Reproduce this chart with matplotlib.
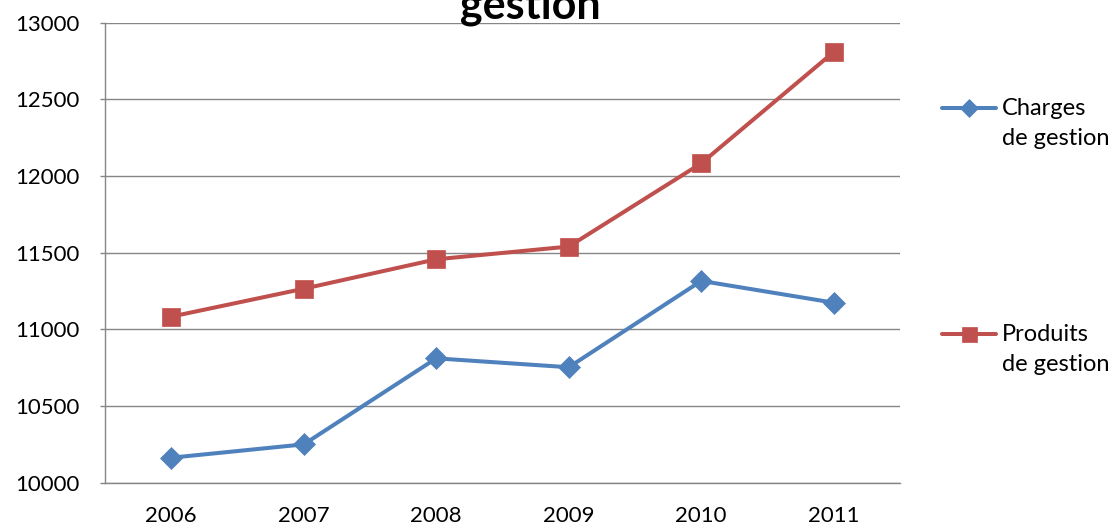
import matplotlib
matplotlib.use("Agg")
import numpy as np
import matplotlib.pyplot as plt
from matplotlib.legend_handler import HandlerLine2D

plt.rcParams['font.family'] = ['Lato', 'DejaVu Sans']

years = ['2006', '2007', '2008', '2009', '2010', '2011']
charges = [10163, 10250, 10811, 10753, 11316, 11174]
produits = [11083, 11265, 11457, 11540, 12083, 12809]
y_ticks = [10000, 10500, 11000, 11500, 12000, 12500, 13000]

W, H = 1115, 526
fig = plt.figure(figsize=(W / 100, H / 100), dpi=100)
ax = fig.add_axes([105 / W, (H - 482.7) / H, (900 - 105) / W, (482.7 - 22.7) / H])

grid_c = '#868686'
blue = '#4F81BD'
red = '#C0504D'

x = list(range(len(years)))
ax.plot(x, charges, color=blue, lw=2.9, marker='D', ms=11, mec=blue, mew=0.5,
        label='Charges\nde gestion', solid_capstyle='round', zorder=3)
ax.plot(x, produits, color=red, lw=2.9, marker='s', ms=13.5, mec=red, mew=0.5,
        label='Produits\nde gestion', solid_capstyle='round', zorder=3)

ax.set_xlim(-0.5, len(years) - 0.5)
ax.set_ylim(y_ticks[0], y_ticks[-1])
ax.set_xticks(x)
ax.set_xticklabels(years)
ax.set_yticks(y_ticks)
ax.set_yticklabels([str(v) for v in y_ticks])

ax.grid(axis='y', color=grid_c, lw=1.0)
ax.set_axisbelow(True)
for s in ('top', 'right'):
    ax.spines[s].set_visible(False)
for s in ('left', 'bottom'):
    ax.spines[s].set_color(grid_c)
    ax.spines[s].set_linewidth(1.0)

ax.tick_params(axis='y', length=3.6, width=1.0, color=grid_c, pad=14.5,
               labelsize=16, labelcolor='black')
ax.tick_params(axis='x', length=0, pad=17, labelsize=16, labelcolor='black')

fig.text(530.5 / W, (H - 19) / H, 'gestion', ha='center', va='baseline',
         fontsize=31, fontweight='bold', color='black')


class FirstLineHandler(HandlerLine2D):
    """Line handle aligned with the first line of a two-line label."""

    def __init__(self, shift, **kw):
        super().__init__(**kw)
        self.shift = shift

    def create_artists(self, legend, orig_handle, xdescent, ydescent, width,
                       height, fontsize, trans):
        artists = super().create_artists(legend, orig_handle, xdescent, ydescent,
                                         width, height, fontsize, trans)
        for a in artists:
            a.set_ydata(np.asarray(a.get_ydata(), dtype=float) + self.shift)
        return artists


handler = {l: FirstLineHandler(11.5, numpoints=1) for l in ax.get_lines()}
leg = ax.legend(loc='upper left', bbox_to_anchor=(942 / W, (H - 98) / H),
                bbox_transform=fig.transFigure, frameon=False, fontsize=17,
                handlelength=2.3, handletextpad=0.22, borderpad=0,
                borderaxespad=0, labelspacing=7.4, handler_map=handler,
                markerscale=0.8)
for t in leg.get_texts():
    t.set_linespacing(1.55)

fig.savefig('out.png', dpi=100)
